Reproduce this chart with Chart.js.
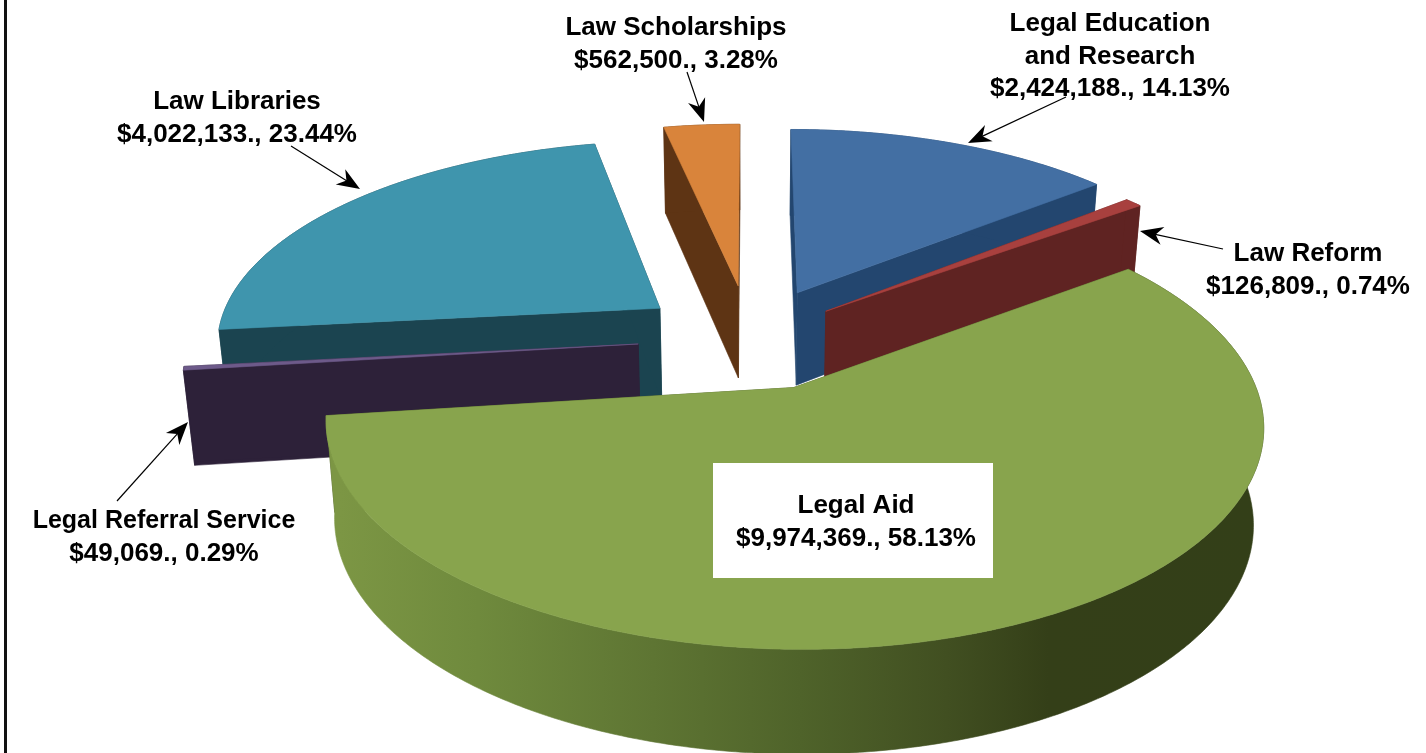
<!DOCTYPE html>
<html>
<head>
<meta charset="utf-8">
<title>Legal funding</title>
<script src="https://cdn.jsdelivr.net/npm/chart.js@4"></script>
<style>
  html, body { margin: 0; padding: 0; background: #fff; overflow: hidden; }
  canvas { display: block; }
</style>
</head>
<body>
<canvas id="pie3d" width="1426" height="753"></canvas>
<script>
const categories = ['Legal Education', 'Law Reform', 'Legal Aid', 'Legal Referral Service', 'Law Libraries', 'Law Scholarships'];
const amounts = [2424188, 126809, 9974369, 49069, 4022133, 562500];
const shares = ['14.13', '0.74', '58.13', '0.29', '23.44', '3.28'];
const topColors = ['#436fa3', '#a8403e', '#88a44d', '#6d5a8a', '#3f95ad', '#d9843b'];
const faceColors = ['#23466f', '#5f2322', '#414f21', '#2d2139', '#1b4450', '#5e3414'];
const explode = [114, 98, 113, 112, 114, 120];

// where the captions sit, not data
const captions = [
  { x: 1110, y: 24, extra: 'and Research', from: [1066, 97], to: [968, 143] },
  { x: 1308, y: 254, from: [1223, 249], to: [1140, 231] },
  { x: 856, y: 506, box: [713, 463, 280, 115] },
  { x: 164, y: 521, nameSize: 25, from: [117, 501], to: [188, 422] },
  { x: 237, y: 102, from: [291, 146], to: [360, 189] },
  { x: 676, y: 28, from: [687, 72], to: [704, 122] }
];

// camera used to tilt the flat pie
const VIEW = { cx: 750, cy: 338, radius: 445, squash: 0.455, dist: 2800, depth: 94, taper: 0.98 };

function project(u, v, low) {
  const w = 1 / (1 - v / VIEW.dist);
  let x = u * w;
  let y = v * VIEW.squash * w;
  if (low) {
    x *= VIEW.taper;
    y += VIEW.depth * Math.sqrt(w);
  }
  return [VIEW.cx + x, VIEW.cy + y];
}

function fillPath(ctx, pts, fill) {
  ctx.beginPath();
  pts.forEach((p, i) => (i ? ctx.lineTo(p[0], p[1]) : ctx.moveTo(p[0], p[1])));
  ctx.closePath();
  ctx.fillStyle = fill;
  ctx.fill();
  ctx.strokeStyle = fill;
  ctx.lineWidth = 0.6;
  ctx.stroke();
}

function sideGradient(ctx) {
  const g = ctx.createLinearGradient(340, 0, 1260, 0);
  g.addColorStop(0, '#7c9644');
  g.addColorStop(0.15, '#6f8a3d');
  g.addColorStop(0.34, '#5e7533');
  g.addColorStop(0.5, '#4f632a');
  g.addColorStop(0.66, '#414f21');
  g.addColorStop(0.77, '#343f18');
  g.addColorStop(1, '#333f18');
  return g;
}

function drawSlice(ctx, arc, i) {
  const { startAngle, endAngle } = arc.getProps(['startAngle', 'endAngle']);
  const mid = (startAngle + endAngle) / 2;
  const ou = Math.cos(mid) * arc.options.offset;
  const ov = Math.sin(mid) * arc.options.offset;

  const rim = [];
  const n = Math.ceil((endAngle - startAngle) / 0.01) + 1;
  for (let s = 0; s <= n; s++) {
    const a = startAngle + (endAngle - startAngle) * s / n;
    rim.push([ou + VIEW.radius * Math.cos(a), ov + VIEW.radius * Math.sin(a)]);
  }
  const first = rim[0];
  const last = rim[rim.length - 1];
  const face = faceColors[i];

  fillPath(ctx, [project(ou, ov), project(first[0], first[1]), project(first[0], first[1], true), project(ou, ov, true)], face);
  fillPath(ctx, [project(ou, ov), project(last[0], last[1]), project(last[0], last[1], true), project(ou, ov, true)], face);

  const wall = rim.map(p => project(p[0], p[1])).concat(rim.slice().reverse().map(p => project(p[0], p[1], true)));
  fillPath(ctx, wall, i === 2 ? sideGradient(ctx) : face);

  fillPath(ctx, [project(ou, ov)].concat(rim.map(p => project(p[0], p[1]))), topColors[i]);
}

function drawArrow(ctx, from, to) {
  const ang = Math.atan2(to[1] - from[1], to[0] - from[0]);
  ctx.strokeStyle = '#000';
  ctx.lineWidth = 1.2;
  ctx.beginPath();
  ctx.moveTo(from[0], from[1]);
  ctx.lineTo(to[0] - 12 * Math.cos(ang), to[1] - 12 * Math.sin(ang));
  ctx.stroke();
  ctx.save();
  ctx.translate(to[0], to[1]);
  ctx.rotate(ang);
  ctx.beginPath();
  ctx.moveTo(0, 0);
  ctx.lineTo(-23, -9);
  ctx.lineTo(-16, 0);
  ctx.lineTo(-23, 9);
  ctx.closePath();
  ctx.fillStyle = '#000';
  ctx.fill();
  ctx.restore();
}

const pie3d = {
  id: 'pie3d',
  beforeDatasetsDraw(chart) {
    const ctx = chart.ctx;
    ctx.save();
    ctx.fillStyle = '#fff';
    ctx.fillRect(0, 0, chart.width, chart.height);
    ctx.fillStyle = '#111';
    ctx.fillRect(4, 0, 3, chart.height);

    const arcs = chart.getDatasetMeta(0).data;
    const backToFront = arcs.map((a, i) => i).sort((p, q) => {
      const mp = (arcs[p].startAngle + arcs[p].endAngle) / 2;
      const mq = (arcs[q].startAngle + arcs[q].endAngle) / 2;
      return Math.sin(mp) - Math.sin(mq);
    });
    backToFront.forEach(i => drawSlice(ctx, arcs[i], i));
    ctx.restore();
    return false;
  },
  afterDraw(chart) {
    const ctx = chart.ctx;
    const fontFor = size => 'bold ' + size + 'px "Liberation Sans", Arial, sans-serif';
    ctx.save();
    ctx.textAlign = 'center';
    ctx.textBaseline = 'middle';
    captions.forEach((c, i) => {
      if (c.box) {
        ctx.fillStyle = '#fff';
        ctx.fillRect(c.box[0], c.box[1], c.box[2], c.box[3]);
      }
      const lines = [categories[i]];
      if (c.extra) lines.push(c.extra);
      lines.push('$' + amounts[i].toLocaleString('en-US') + '., ' + shares[i] + '%');
      ctx.fillStyle = '#000';
      lines.forEach((t, j) => {
        ctx.font = fontFor(j === 0 && c.nameSize ? c.nameSize : 26);
        ctx.fillText(t, c.x, c.y + j * 32.5);
      });
      if (c.from) drawArrow(ctx, c.from, c.to);
    });
    ctx.restore();
  }
};

new Chart(document.getElementById('pie3d'), {
  type: 'pie',
  data: {
    labels: categories,
    datasets: [{
      data: amounts,
      backgroundColor: topColors,
      borderWidth: 0,
      offset: explode
    }]
  },
  options: {
    responsive: false,
    animation: false,
    plugins: { legend: { display: false }, title: { display: false }, tooltip: { enabled: false } }
  },
  plugins: [pie3d]
});
</script>
</body>
</html>
